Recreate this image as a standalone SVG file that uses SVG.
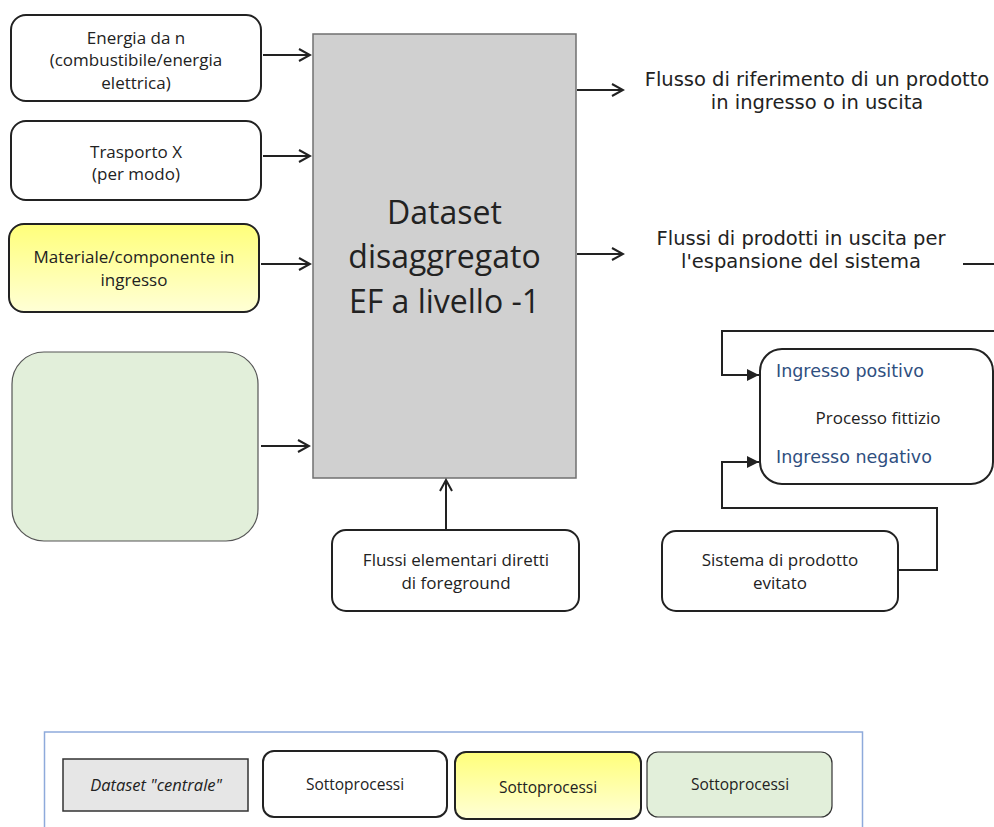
<svg xmlns="http://www.w3.org/2000/svg" width="994" height="827" viewBox="0 0 994 827">
<defs>
<style>
.box{fill:#fff;stroke:#222;stroke-width:2}
.cal{font-family:"Open Sans","Liberation Sans",Arial,sans-serif;font-size:17px;fill:#222;text-anchor:middle}
.big{font-size:32px}
.leg{font-size:15.5px}
.ver{font-family:"DejaVu Sans",Verdana,sans-serif;font-size:19.5px;fill:#222;text-anchor:middle}
.blue{font-family:"DejaVu Sans",Verdana,sans-serif;font-size:17.5px;fill:#2f4f7f}
.conn{fill:none;stroke:#222;stroke-width:2}
</style>
<linearGradient id="yel" x1="0" y1="0" x2="0" y2="1">
<stop offset="0" stop-color="#ffff7a"/>
<stop offset="1" stop-color="#ffffd6"/>
</linearGradient>
<marker id="open" markerWidth="14" markerHeight="14" refX="12" refY="7" orient="auto" markerUnits="userSpaceOnUse">
<path d="M1,1 L12,7 L1,13" fill="none" stroke="#222" stroke-width="2"/>
</marker>
<marker id="fill" markerWidth="14" markerHeight="14" refX="13" refY="7" orient="auto" markerUnits="userSpaceOnUse">
<path d="M1,1 L13,7 L1,13 Z" fill="#222"/>
</marker>
</defs>
<rect width="994" height="827" fill="#fff"/>

<g id="central">
<rect x="313" y="34" width="263" height="444" fill="#d0d0d0" stroke="#707070" stroke-width="1.5"/>
<text class="cal big" x="444.5" y="224">Dataset</text>
<text class="cal big" x="444.5" y="268">disaggregato</text>
<text class="cal big" x="444.5" y="313">EF a livello -1</text>
</g>

<g id="energia">
<rect class="box" x="11" y="15" width="250" height="86" rx="15"/>
<text class="cal" x="136" y="44">Energia da n</text>
<text class="cal" x="136" y="66">(combustibile/energia</text>
<text class="cal" x="136" y="89">elettrica)</text>
</g>

<g id="trasporto">
<rect class="box" x="11" y="121" width="250" height="79" rx="15"/>
<text class="cal" x="136" y="158">Trasporto X</text>
<text class="cal" x="136" y="180">(per modo)</text>
</g>

<g id="materiale">
<rect x="9" y="224" width="250" height="88" rx="15" fill="url(#yel)" stroke="#222" stroke-width="2"/>
<text class="cal" x="134" y="263">Materiale/componente in</text>
<text class="cal" x="134" y="286">ingresso</text>
</g>

<g id="verde">
<rect x="12" y="352" width="246" height="189" rx="32" fill="#e2efda" stroke="#555" stroke-width="1.2"/>
</g>

<g id="flussi-elementari">
<rect class="box" x="332" y="530" width="247" height="81" rx="14"/>
<text class="cal" x="456" y="566">Flussi elementari diretti</text>
<text class="cal" x="456" y="589">di foreground</text>
</g>

<g id="flusso-riferimento">
<text class="ver" x="817" y="86">Flusso di riferimento di un prodotto</text>
<text class="ver" x="817" y="109">in ingresso o in uscita</text>
</g>

<g id="flussi-uscita">
<text class="ver" x="801" y="245">Flussi di prodotti in uscita per</text>
<text class="ver" x="801" y="268">l'espansione del sistema</text>
</g>

<g id="processo-fittizio">
<rect class="box" x="760" y="349" width="233" height="135" rx="22"/>
<text class="blue" x="776" y="377">Ingresso positivo</text>
<text class="cal" x="878" y="424">Processo fittizio</text>
<text class="blue" x="776" y="463">Ingresso negativo</text>
</g>

<g id="sistema-evitato">
<rect class="box" x="662" y="531" width="236" height="80" rx="14"/>
<text class="cal" x="780" y="566">Sistema di prodotto</text>
<text class="cal" x="780" y="589">evitato</text>
</g>

<g id="connectors">
<line class="conn" x1="263" y1="55" x2="310" y2="55" marker-end="url(#open)"/>
<line class="conn" x1="263" y1="156" x2="310" y2="156" marker-end="url(#open)"/>
<line class="conn" x1="261" y1="264" x2="310" y2="264" marker-end="url(#open)"/>
<line class="conn" x1="261" y1="446" x2="309" y2="446" marker-end="url(#open)"/>
<line class="conn" x1="577" y1="90" x2="623" y2="90" marker-end="url(#open)"/>
<line class="conn" x1="577" y1="254" x2="623" y2="254" marker-end="url(#open)"/>
<line class="conn" x1="446" y1="530" x2="446" y2="480" marker-end="url(#open)"/>
<line class="conn" x1="963" y1="264" x2="994" y2="264"/>
<path class="conn" d="M994,331 H722 V375 H759" marker-end="url(#fill)"/>
<path class="conn" d="M898,570 H937 V508 H722 V462 H759" marker-end="url(#fill)"/>
</g>

<g id="legend">
<rect x="44.5" y="732" width="818" height="110" fill="#fff" stroke="#8eaadb" stroke-width="1.5"/>
<rect x="63" y="759" width="185" height="52" fill="#e6e6e6" stroke="#333" stroke-width="1.5"/>
<text class="cal" font-style="italic" style="font-size:16.5px" x="156" y="791">Dataset "centrale"</text>
<rect class="box" x="263" y="751" width="184" height="66" rx="11"/>
<text class="cal leg" x="355" y="790">Sottoprocessi</text>
<rect x="455" y="752" width="186" height="67" rx="11" fill="url(#yel)" stroke="#222" stroke-width="2"/>
<text class="cal leg" x="548" y="793">Sottoprocessi</text>
<rect x="647" y="752" width="185" height="65" rx="11" fill="#e2efda" stroke="#333" stroke-width="1.2"/>
<text class="cal leg" x="740" y="790">Sottoprocessi</text>
</g>
</svg>
